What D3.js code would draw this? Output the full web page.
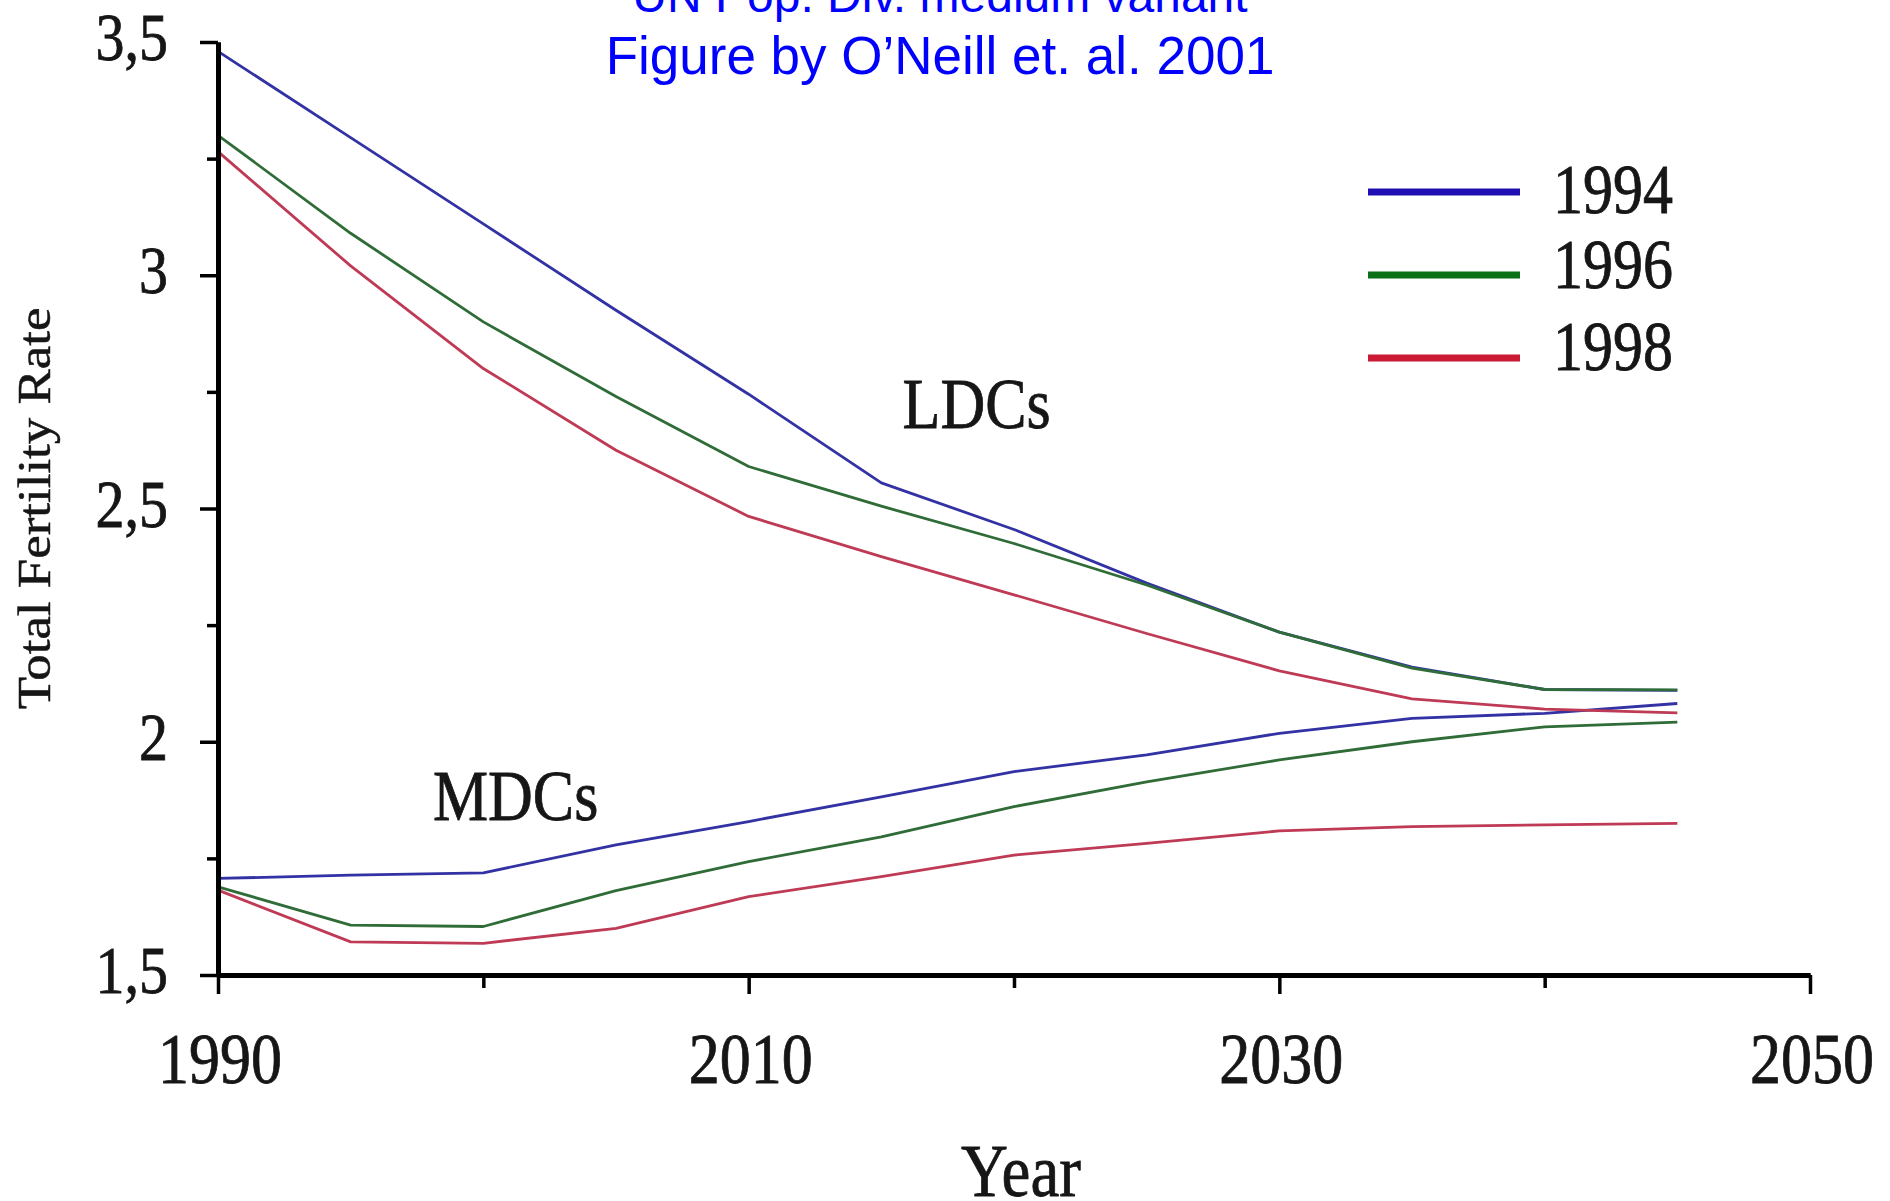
<!DOCTYPE html>
<html>
<head>
<meta charset="utf-8">
<script src="https://cdn.jsdelivr.net/npm/d3@7"></script>
<style>
  html, body { margin: 0; padding: 0; background: #ffffff; }
  svg { display: block; }
</style>
</head>
<body>
<script>
// ---------- data ----------
const years = [1990, 1995, 2000, 2005, 2010, 2015, 2020, 2025, 2030, 2035, 2040, 2045];
const ldc1994 = [3.48, 3.295, 3.11, 2.925, 2.745, 2.555, 2.455, 2.34, 2.235, 2.16, 2.112, 2.11];
const ldc1996 = [3.30, 3.09, 2.90, 2.74, 2.59, 2.505, 2.425, 2.336, 2.235, 2.158, 2.112, 2.111];
const ldc1998 = [3.265, 3.02, 2.80, 2.625, 2.483, 2.397, 2.315, 2.232, 2.152, 2.092, 2.07, 2.062];
const mdc1994 = [1.707, 1.714, 1.719, 1.779, 1.829, 1.882, 1.936, 1.972, 2.018, 2.05, 2.061, 2.082];
const mdc1996 = [1.689, 1.607, 1.604, 1.681, 1.743, 1.796, 1.861, 1.914, 1.961, 2.0, 2.032, 2.042];
const mdc1998 = [1.682, 1.571, 1.568, 1.600, 1.668, 1.711, 1.757, 1.782, 1.809, 1.818, 1.822, 1.825];
const seriesNames = ["1994", "1996", "1998"];
const xMajorTicks = [1990, 2010, 2030, 2050];
const xMinorTicks = [2000, 2020, 2040];
const yMajorTicks = [1.5, 2, 2.5, 3, 3.5];
const yTickLabels = ["1,5", "2", "2,5", "3", "3,5"];
const yMinorTicks = [1.75, 2.25, 2.75, 3.25];
const titleLines = ["UN Pop. Div. medium variant", "Figure by O\u2019Neill et. al. 2001"];
const xTitle = "Year";
const yTitle = "Total Fertility Rate";

// ---------- layout ----------
const W = 1890, H = 1201;
const x = d3.scaleLinear().domain([1990, 2050]).range([218, 1810]);
const y = d3.scaleLinear().domain([1.5, 3.5]).range([975, 42]);
const colors = { "1994": "#3232a4", "1996": "#2f6c38", "1998": "#bf3a55" };
const legendColors = { "1994": "#2010b4", "1996": "#0c7016", "1998": "#cc1a34" };
const STRETCH = 1.15;
const serif = "'Liberation Serif', 'Times New Roman', serif";
const ink = "#161616";

const svg = d3.select("body").append("svg").attr("width", W).attr("height", H);
svg.append("rect").attr("width", W).attr("height", H).attr("fill", "#fff");

function inkText(sel) {
  return sel.attr("font-family", serif).attr("fill", ink)
    .attr("stroke", ink).attr("stroke-width", 0.7);
}

// ---------- title ----------
svg.append("text")
  .attr("x", 940).attr("y", 12)
  .attr("text-anchor", "middle")
  .attr("font-family", "'Liberation Sans', Arial, sans-serif")
  .attr("font-size", 48).attr("fill", "#0000ff")
  .text(titleLines[0]);
svg.append("text")
  .attr("x", 940).attr("y", 74)
  .attr("text-anchor", "middle")
  .attr("font-family", "'Liberation Sans', Arial, sans-serif")
  .attr("font-size", 53).attr("fill", "#0000ff")
  .text(titleLines[1]);

// ---------- series ----------
const groups = [
  { name: "1994", ldc: ldc1994, mdc: mdc1994 },
  { name: "1996", ldc: ldc1996, mdc: mdc1996 },
  { name: "1998", ldc: ldc1998, mdc: mdc1998 }
];
const line = d3.line().x(d => x(d[0])).y(d => y(d[1]));
const plot = svg.append("g");
groups.forEach(g => {
  [g.ldc, g.mdc].forEach(vals => {
    plot.append("path")
      .datum(years.map((yr, i) => [yr, vals[i]]))
      .attr("d", line)
      .attr("fill", "none")
      .attr("stroke", colors[g.name])
      .attr("stroke-width", 2.8)
      .attr("stroke-linejoin", "round");
  });
});

// ---------- axes ----------
function styleAxis(sel, w) {
  sel.selectAll(".domain").attr("stroke", "#000").attr("stroke-width", 5);
  sel.selectAll(".tick line").attr("stroke", "#000").attr("stroke-width", w);
  sel.selectAll(".tick text").remove();
}
const xMinor = svg.append("g").attr("transform", `translate(0,${y(1.5)})`)
  .call(d3.axisBottom(x).tickValues(xMinorTicks).tickSize(13).tickSizeOuter(0).tickFormat(""));
styleAxis(xMinor, 3.5);
const xMajor = svg.append("g").attr("transform", `translate(0,${y(1.5)})`)
  .call(d3.axisBottom(x).tickValues(xMajorTicks).tickSize(19).tickSizeOuter(0).tickFormat(""));
styleAxis(xMajor, 3.5);

const yMinor = svg.append("g").attr("transform", `translate(${x(1990)},0)`)
  .call(d3.axisLeft(y).tickValues(yMinorTicks).tickSize(11).tickSizeOuter(0).tickFormat(""));
styleAxis(yMinor, 3.5);
const yMajor = svg.append("g").attr("transform", `translate(${x(1990)},0)`)
  .call(d3.axisLeft(y).tickValues(yMajorTicks).tickSize(18).tickSizeOuter(0).tickFormat(""));
styleAxis(yMajor, 3.5);

// tick labels (stretched serif, like the original bitmap)
inkText(svg.append("g").selectAll("text").data(xMajorTicks).join("text")
  .attr("transform", d => `translate(${x(d) + 2},1083) scale(1,${STRETCH})`)
  .attr("text-anchor", "middle")
  .attr("font-size", 62))
  .text(d => d);

inkText(svg.append("g").selectAll("text").data(yMajorTicks).join("text")
  .attr("transform", d => `translate(168,${y(d) + 18}) scale(1,${STRETCH})`)
  .attr("text-anchor", "end")
  .attr("font-size", 58))
  .text((d, i) => yTickLabels[i]);

// axis titles
inkText(svg.append("text")
  .attr("transform", `translate(${(x(1990) + x(2050)) / 2 + 7},1196) scale(1,${STRETCH})`)
  .attr("text-anchor", "middle")
  .attr("font-size", 65))
  .text(xTitle);

inkText(svg.append("text")
  .attr("transform", `translate(50,${(y(1.5) + y(3.5)) / 2}) rotate(-90) scale(${STRETCH},1)`)
  .attr("text-anchor", "middle")
  .attr("font-size", 46))
  .attr("stroke-width", 0.5)
  .text(yTitle);

// group annotations
inkText(svg.append("text")
  .attr("transform", `translate(${x(2015.8)},${y(2.673)}) scale(1,${STRETCH})`)
  .attr("font-size", 62))
  .text("LDCs");
inkText(svg.append("text")
  .attr("transform", `translate(${x(1998.1)},${y(1.832)}) scale(1,${STRETCH})`)
  .attr("font-size", 62))
  .text("MDCs");

// ---------- legend ----------
const legendLineY = [192, 275, 358];
const legendTextY = [213, 288, 370];
const legend = svg.append("g");
seriesNames.forEach((name, i) => {
  legend.append("line")
    .attr("x1", 1368).attr("x2", 1520)
    .attr("y1", legendLineY[i]).attr("y2", legendLineY[i])
    .attr("stroke", legendColors[name]).attr("stroke-width", 7);
  inkText(legend.append("text")
    .attr("transform", `translate(1553,${legendTextY[i]}) scale(1,${STRETCH})`)
    .attr("font-size", 60))
    .text(name);
});
</script>
</body>
</html>
